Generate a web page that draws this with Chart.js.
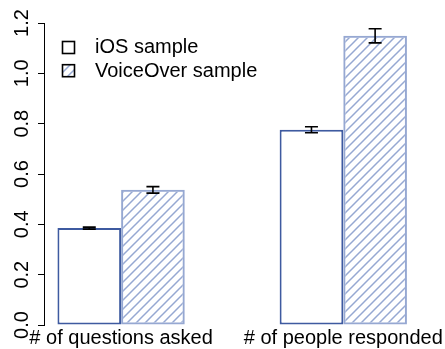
<!DOCTYPE html>
<html>
<head>
<meta charset="utf-8">
<script src="https://cdn.jsdelivr.net/npm/chart.js@4.4.1/dist/chart.umd.min.js"></script>
<style>
  html, body { margin: 0; padding: 0; background: #fff; }
  #wrap { width: 445px; height: 349px; }
</style>
</head>
<body>
<div id="wrap"><canvas id="chart" width="445" height="349"></canvas></div>
<script>
// Mean ratios per category, with standard-error half-widths
const categories = ['# of questions asked', '# of people responded'];
const seriesNames = ['iOS sample', 'VoiceOver sample'];
const iosValues = [0.385, 0.776];
const iosErrors = [0.004, 0.012];
const voiceOverValues = [0.537, 1.149];
const voiceOverErrors = [0.013, 0.028];
const yTickLabels = ['0.0', '0.2', '0.4', '0.6', '0.8', '1.0', '1.2'];

const FONT = '"Liberation Sans", Arial, Helvetica, sans-serif';
const IOS_BLUE = 'rgb(62, 90, 160)';
const VO_BLUE = 'rgb(150, 168, 210)';

// Diagonal "/" hatching used for the VoiceOver bars
function makeHatch(color) {
  const s = 9;
  const tile = document.createElement('canvas');
  tile.width = s; tile.height = s;
  const g = tile.getContext('2d');
  g.strokeStyle = color;
  g.lineWidth = 1.5;
  g.beginPath();
  g.moveTo(0, s); g.lineTo(s, 0);
  g.moveTo(-1, 1); g.lineTo(1, -1);
  g.moveTo(s - 1, s + 1); g.lineTo(s + 1, s - 1);
  g.stroke();
  return g.createPattern(tile, 'repeat');
}
const hatch = makeHatch(VO_BLUE);

const toPoints = vals => vals.map((v, i) => ({ x: i + 1, y: v }));

// Error bars with flat caps, positioned through the chart's scales
const errorBarPlugin = {
  id: 'errorBars',
  afterDatasetsDraw(chart) {
    const { ctx } = chart;
    const yScale = chart.scales.y;
    ctx.save();
    ctx.strokeStyle = '#000';
    ctx.lineWidth = 1.6;
    chart.data.datasets.forEach((ds, di) => {
      const meta = chart.getDatasetMeta(di);
      meta.data.forEach((bar, i) => {
        const v = ds.data[i].y, e = ds.errors[i];
        const yHi = yScale.getPixelForValue(v + e);
        const yLo = yScale.getPixelForValue(v - e);
        const half = 6.5;
        ctx.beginPath();
        ctx.moveTo(bar.x, yHi); ctx.lineTo(bar.x, yLo);
        ctx.moveTo(bar.x - half, yHi); ctx.lineTo(bar.x + half, yHi);
        ctx.moveTo(bar.x - half, yLo); ctx.lineTo(bar.x + half, yLo);
        ctx.stroke();
      });
    });
    ctx.restore();
  }
};

// Boxed legend inside the plot, top-left
const boxLegendPlugin = {
  id: 'boxLegend',
  afterDraw(chart) {
    const { ctx, chartArea } = chart;
    const boxX = chartArea.left + 18.5;
    const textX = chartArea.left + 51;
    const firstBaseline = chartArea.top + 30.3;
    const rowH = 23.2;
    const bs = 12;
    ctx.save();
    ctx.font = '20px ' + FONT;
    ctx.textBaseline = 'alphabetic';
    ctx.textAlign = 'left';
    chart.data.datasets.forEach((ds, i) => {
      const base = firstBaseline + i * rowH;
      const by = base - 11.8;
      ctx.fillStyle = '#fff';
      ctx.fillRect(boxX, by, bs, bs);
      if (ds.legendFill) {
        ctx.fillStyle = ds.legendFill;
        ctx.fillRect(boxX, by, bs, bs);
      }
      ctx.strokeStyle = '#000';
      ctx.lineWidth = 1.6;
      ctx.strokeRect(boxX, by, bs, bs);
      ctx.fillStyle = '#000';
      ctx.fillText(ds.label, textX, base);
    });
    ctx.restore();
  }
};

new Chart(document.getElementById('chart'), {
  type: 'bar',
  data: {
    datasets: [
      {
        label: seriesNames[0],
        data: toPoints(iosValues),
        errors: iosErrors,
        backgroundColor: '#fff',
        borderColor: IOS_BLUE,
        borderWidth: 2,
        borderSkipped: false,
        legendFill: null
      },
      {
        label: seriesNames[1],
        data: toPoints(voiceOverValues),
        errors: voiceOverErrors,
        backgroundColor: hatch,
        borderColor: VO_BLUE,
        borderWidth: 2,
        borderSkipped: false,
        legendFill: hatch
      }
    ]
  },
  options: {
    responsive: false,
    animation: false,
    events: [],
    categoryPercentage: 0.573,
    barPercentage: 1.0,
    layout: { padding: { top: 23, left: 0, right: 5, bottom: 0 } },
    plugins: { legend: { display: false }, tooltip: { enabled: false } },
    scales: {
      x: {
        type: 'linear',
        offset: false,
        min: 0.653,
        max: 2.418,
        grid: { display: false, drawTicks: false },
        border: { display: false },
        afterBuildTicks: scale => {
          scale.ticks = categories.map((_, i) => ({ value: i + 1 }));
        },
        afterFit: scale => { scale.height = 24; },
        ticks: {
          autoSkip: false,
          maxRotation: 0,
          minRotation: 0,
          padding: 1,
          color: '#000',
          font: { family: FONT, size: 20 },
          callback: (value) => categories[Math.round(value) - 1]
        }
      },
      y: {
        min: 0,
        max: 1.2,
        afterFit: scale => { scale.width = 44; },
        grid: {
          display: true,
          drawOnChartArea: false,
          drawTicks: true,
          tickLength: 6,
          color: '#000',
          lineWidth: 1
        },
        border: { display: true, color: '#000', width: 1 },
        ticks: {
          stepSize: 0.2,
          minRotation: 90,
          maxRotation: 90,
          crossAlign: 'center',
          padding: 2,
          color: '#000',
          font: { family: FONT, size: 20 },
          callback: (value, index) => yTickLabels[index]
        }
      }
    }
  },
  plugins: [errorBarPlugin, boxLegendPlugin]
});
</script>
</body>
</html>
